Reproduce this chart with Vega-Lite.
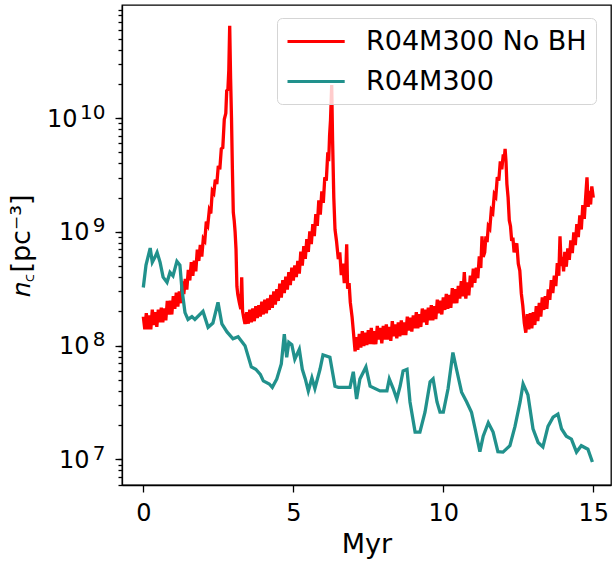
{
"$schema": "https://vega.github.io/schema/vega-lite/v6.json",
"width": 489, "height": 480,
"autosize": "none",
"padding": {"left": 122, "top": 5, "right": 1, "bottom": 79},
"background": "white",
"config": {
 "font": "DejaVu Sans",
 "view": {"stroke": "black", "strokeWidth": 1.3},
 "axis": {"grid": false, "domainColor": "black", "domainWidth": 1.3, "tickColor": "black", "tickWidth": 1.3, "labelColor": "black", "labelFont": "DejaVu Sans", "labelFontSize": 24, "titleFont": "DejaVu Sans", "titleFontSize": 27, "titleFontWeight": "normal", "titleColor": "black", "labelOverlap": false},
 "legend": {"labelFont": "DejaVu Sans", "labelFontSize": 27, "labelColor": "black", "labelLimit": 0}
},
"datasets": {
 "red": [
{"t":0,"n":1.80e8},{"t":0.05,"n":1.39e8},{"t":0.1,"n":1.93e8},{"t":0.15,"n":1.39e8},{"t":0.2,"n":1.84e8},{"t":0.25,"n":1.39e8},{"t":0.3,"n":2.07e8},{"t":0.35,"n":1.52e8},{"t":0.4,"n":1.97e8},{"t":0.45,"n":1.46e8},{"t":0.5,"n":2.07e8},{"t":0.55,"n":1.60e8},{"t":0.6,"n":2.16e8},{"t":0.65,"n":1.60e8},{"t":0.7,"n":2.12e8},{"t":0.75,"n":1.67e8},{"t":0.8,"n":2.48e8},{"t":0.85,"n":1.88e8},{"t":0.9,"n":2.48e8},{"t":0.95,"n":1.88e8},{"t":1.0,"n":2.72e8},{"t":1.05,"n":2.11e8},{"t":1.1,"n":2.92e8},{"t":1.15,"n":2.20e8},{"t":1.2,"n":2.99e8},{"t":1.25,"n":2.36e8},{"t":1.3,"n":3.68e8},{"t":1.35,"n":2.84e8},{"t":1.4,"n":3.85e8},{"t":1.45,"n":3.11e8},{"t":1.5,"n":4.63e8},{"t":1.55,"n":3.74e8},{"t":1.6,"n":5.41e8},{"t":1.65,"n":4.11e8},{"t":1.7,"n":5.57e8},{"t":1.75,"n":4.50e8},{"t":1.8,"n":7.0e8},{"t":1.85,"n":5.55e8},{"t":1.9,"n":7.67e8},{"t":1.95,"n":6.07e8},{"t":2.0,"n":8.71e8},{"t":2.05,"n":8.32e8},{"t":2.1,"n":1.23e9},{"t":2.15,"n":1.15e9},{"t":2.2,"n":1.55e9},{"t":2.25,"n":1.45e9},{"t":2.3,"n":2.29e9},{"t":2.35,"n":2.19e9},{"t":2.4,"n":2.88e9},{"t":2.45,"n":2.63e9},{"t":2.5,"n":3.80e9},{"t":2.55,"n":3.55e9},{"t":2.6,"n":5.37e9},{"t":2.65,"n":5.50e9},{"t":2.7,"n":9.77e9},{"t":2.75,"n":1.10e10},{"t":2.78,"n":1.74e10},{"t":2.82,"n":1.78e10},{"t":2.85,"n":2.63e10},{"t":2.88,"n":6.46e10},{"t":2.91,"n":2.24e10},{"t":2.94,"n":1.0e10},{"t":2.97,"n":3.55e9},{"t":3.0,"n":1.48e9},{"t":3.03,"n":1.26e9},{"t":3.06,"n":1.0e9},{"t":3.09,"n":7.1e8},{"t":3.12,"n":3.31e8},{"t":3.15,"n":2.82e8},{"t":3.2,"n":2.40e8},{"t":3.25,"n":2.09e8},{"t":3.28,"n":3.98e8},{"t":3.31,"n":2.0e8},{"t":3.35,"n":1.74e8},{"t":3.39,"n":1.55e8},{"t":3.45,"n":1.97e8},{"t":3.5,"n":1.56e8},{"t":3.55,"n":2.07e8},{"t":3.6,"n":1.60e8},{"t":3.65,"n":2.12e8},{"t":3.7,"n":1.64e8},{"t":3.75,"n":2.22e8},{"t":3.8,"n":1.75e8},{"t":3.85,"n":2.27e8},{"t":3.9,"n":1.80e8},{"t":3.95,"n":2.43e8},{"t":4.0,"n":1.88e8},{"t":4.05,"n":2.54e8},{"t":4.1,"n":1.92e8},{"t":4.15,"n":2.60e8},{"t":4.2,"n":2.06e8},{"t":4.25,"n":2.79e8},{"t":4.3,"n":2.15e8},{"t":4.35,"n":2.99e8},{"t":4.4,"n":2.30e8},{"t":4.45,"n":3.13e8},{"t":4.5,"n":2.47e8},{"t":4.55,"n":3.51e8},{"t":4.6,"n":2.65e8},{"t":4.65,"n":3.76e8},{"t":4.7,"n":2.90e8},{"t":4.75,"n":4.03e8},{"t":4.8,"n":3.11e8},{"t":4.85,"n":4.42e8},{"t":4.9,"n":3.41e8},{"t":4.95,"n":4.84e8},{"t":5.0,"n":3.74e8},{"t":5.05,"n":5.08e8},{"t":5.1,"n":4.01e8},{"t":5.15,"n":5.57e8},{"t":5.2,"n":4.30e8},{"t":5.25,"n":6.69e8},{"t":5.3,"n":5.05e8},{"t":5.35,"n":7.50e8},{"t":5.4,"n":5.80e8},{"t":5.45,"n":8.62e8},{"t":5.5,"n":6.66e8},{"t":5.55,"n":1.01e9},{"t":5.6,"n":7.82e8},{"t":5.65,"n":1.17e9},{"t":5.7,"n":9.18e8},{"t":5.75,"n":1.43e9},{"t":5.8,"n":1.13e9},{"t":5.85,"n":1.89e9},{"t":5.9,"n":1.42e9},{"t":5.95,"n":2.27e9},{"t":6.0,"n":1.80e9},{"t":6.05,"n":3.02e9},{"t":6.1,"n":2.82e9},{"t":6.15,"n":5.01e9},{"t":6.18,"n":4.17e9},{"t":6.21,"n":7.08e9},{"t":6.24,"n":9.55e9},{"t":6.28,"n":1.95e10},{"t":6.31,"n":6.31e9},{"t":6.35,"n":2.0e9},{"t":6.39,"n":1.05e9},{"t":6.44,"n":8.32e8},{"t":6.5,"n":5.75e8},{"t":6.55,"n":6.61e8},{"t":6.6,"n":4.17e8},{"t":6.65,"n":5.25e8},{"t":6.7,"n":3.55e8},{"t":6.75,"n":4.57e8},{"t":6.78,"n":7.76e8},{"t":6.81,"n":3.16e8},{"t":6.86,"n":3.55e8},{"t":6.9,"n":2.40e8},{"t":6.96,"n":1.78e8},{"t":7.01,"n":1.26e8},{"t":7.06,"n":8.9e7},{"t":7.1,"n":1.19e8},{"t":7.15,"n":9.2e7},{"t":7.2,"n":1.27e8},{"t":7.25,"n":9.6e7},{"t":7.3,"n":1.34e8},{"t":7.35,"n":9.9e7},{"t":7.4,"n":1.30e8},{"t":7.45,"n":1.01e8},{"t":7.5,"n":1.37e8},{"t":7.55,"n":1.03e8},{"t":7.6,"n":1.43e8},{"t":7.65,"n":1.03e8},{"t":7.7,"n":1.34e8},{"t":7.75,"n":1.03e8},{"t":7.8,"n":1.49e8},{"t":7.85,"n":1.13e8},{"t":7.9,"n":1.43e8},{"t":7.95,"n":1.05e8},{"t":8.0,"n":1.49e8},{"t":8.05,"n":1.13e8},{"t":8.1,"n":1.54e8},{"t":8.15,"n":1.13e8},{"t":8.2,"n":1.46e8},{"t":8.25,"n":1.10e8},{"t":8.3,"n":1.64e8},{"t":8.35,"n":1.21e8},{"t":8.4,"n":1.54e8},{"t":8.45,"n":1.16e8},{"t":8.5,"n":1.60e8},{"t":8.55,"n":1.21e8},{"t":8.6,"n":1.67e8},{"t":8.65,"n":1.24e8},{"t":8.7,"n":1.60e8},{"t":8.75,"n":1.24e8},{"t":8.8,"n":1.80e8},{"t":8.85,"n":1.36e8},{"t":8.9,"n":1.76e8},{"t":8.95,"n":1.33e8},{"t":9.0,"n":1.84e8},{"t":9.05,"n":1.42e8},{"t":9.1,"n":1.97e8},{"t":9.15,"n":1.42e8},{"t":9.2,"n":1.89e8},{"t":9.25,"n":1.46e8},{"t":9.3,"n":2.12e8},{"t":9.35,"n":1.60e8},{"t":9.4,"n":2.07e8},{"t":9.45,"n":1.52e8},{"t":9.5,"n":2.16e8},{"t":9.55,"n":1.67e8},{"t":9.6,"n":2.27e8},{"t":9.65,"n":1.67e8},{"t":9.7,"n":2.22e8},{"t":9.75,"n":1.71e8},{"t":9.8,"n":2.54e8},{"t":9.85,"n":1.92e8},{"t":9.9,"n":2.48e8},{"t":9.95,"n":1.88e8},{"t":10.0,"n":2.66e8},{"t":10.05,"n":2.06e8},{"t":10.1,"n":2.85e8},{"t":10.15,"n":2.11e8},{"t":10.2,"n":2.79e8},{"t":10.25,"n":2.15e8},{"t":10.3,"n":3.20e8},{"t":10.35,"n":2.36e8},{"t":10.4,"n":3.13e8},{"t":10.45,"n":2.36e8},{"t":10.5,"n":3.35e8},{"t":10.55,"n":2.59e8},{"t":10.6,"n":3.68e8},{"t":10.65,"n":2.71e8},{"t":10.7,"n":4.42e8},{"t":10.75,"n":2.59e8},{"t":10.8,"n":3.59e8},{"t":10.85,"n":2.77e8},{"t":10.9,"n":4.12e8},{"t":10.95,"n":3.26e8},{"t":11.0,"n":4.74e8},{"t":11.05,"n":3.57e8},{"t":11.1,"n":4.84e8},{"t":11.15,"n":3.92e8},{"t":11.2,"n":6.10e8},{"t":11.25,"n":4.82e8},{"t":11.29,"n":9.12e8},{"t":11.33,"n":6.03e8},{"t":11.38,"n":6.61e8},{"t":11.42,"n":9.12e8},{"t":11.46,"n":8.13e8},{"t":11.5,"n":1.12e9},{"t":11.55,"n":1.07e9},{"t":11.6,"n":1.55e9},{"t":11.65,"n":1.48e9},{"t":11.7,"n":2.14e9},{"t":11.75,"n":2.04e9},{"t":11.8,"n":3.02e9},{"t":11.85,"n":2.82e9},{"t":11.9,"n":4.17e9},{"t":11.95,"n":3.55e9},{"t":12.0,"n":4.79e9},{"t":12.03,"n":4.27e9},{"t":12.06,"n":5.37e9},{"t":12.09,"n":4.17e9},{"t":12.12,"n":2.63e9},{"t":12.16,"n":2.0e9},{"t":12.2,"n":1.26e9},{"t":12.24,"n":1.12e9},{"t":12.28,"n":8.32e8},{"t":12.32,"n":8.91e8},{"t":12.36,"n":6.61e8},{"t":12.4,"n":7.24e8},{"t":12.45,"n":7.94e8},{"t":12.5,"n":5.25e8},{"t":12.55,"n":4.57e8},{"t":12.6,"n":2.88e8},{"t":12.65,"n":2.24e8},{"t":12.7,"n":1.58e8},{"t":12.75,"n":1.30e8},{"t":12.8,"n":1.89e8},{"t":12.85,"n":1.39e8},{"t":12.9,"n":1.93e8},{"t":12.95,"n":1.42e8},{"t":13.0,"n":1.97e8},{"t":13.05,"n":1.52e8},{"t":13.1,"n":2.22e8},{"t":13.15,"n":1.64e8},{"t":13.2,"n":2.37e8},{"t":13.25,"n":1.80e8},{"t":13.3,"n":2.66e8},{"t":13.35,"n":2.06e8},{"t":13.4,"n":2.72e8},{"t":13.45,"n":2.11e8},{"t":13.5,"n":3.13e8},{"t":13.55,"n":2.53e8},{"t":13.6,"n":3.76e8},{"t":13.65,"n":2.90e8},{"t":13.7,"n":4.12e8},{"t":13.75,"n":3.34e8},{"t":13.8,"n":5.31e8},{"t":13.85,"n":4.11e8},{"t":13.89,"n":9.12e8},{"t":13.93,"n":5.01e8},{"t":13.97,"n":6.03e8},{"t":14.01,"n":4.50e8},{"t":14.05,"n":6.69e8},{"t":14.1,"n":4.94e8},{"t":14.15,"n":7.17e8},{"t":14.2,"n":5.67e8},{"t":14.25,"n":8.42e8},{"t":14.3,"n":6.50e8},{"t":14.35,"n":9.89e8},{"t":14.4,"n":7.64e8},{"t":14.45,"n":1.17e9},{"t":14.5,"n":8.98e8},{"t":14.55,"n":1.40e9},{"t":14.6,"n":1.05e9},{"t":14.65,"n":1.72e9},{"t":14.7,"n":1.30e9},{"t":14.75,"n":2.12e9},{"t":14.79,"n":3.02e9},{"t":14.83,"n":1.66e9},{"t":14.87,"n":2.29e9},{"t":14.91,"n":1.74e9},{"t":14.95,"n":2.51e9},{"t":15.0,"n":2.0e9}
 ],
 "teal": [
{"t":0,"n":3.24e8},{"t":0.09,"n":5.1e8},{"t":0.23,"n":7.2e8},{"t":0.3,"n":5.4e8},{"t":0.39,"n":6.0e8},{"t":0.46,"n":6.6e8},{"t":0.56,"n":5.4e8},{"t":0.66,"n":4.0e8},{"t":0.79,"n":3.6e8},{"t":0.89,"n":4.4e8},{"t":0.99,"n":4.1e8},{"t":1.12,"n":5.5e8},{"t":1.22,"n":5.1e8},{"t":1.29,"n":3.1e8},{"t":1.39,"n":1.95e8},{"t":1.49,"n":1.7e8},{"t":1.62,"n":1.8e8},{"t":1.72,"n":1.7e8},{"t":1.99,"n":2.0e8},{"t":2.16,"n":1.45e8},{"t":2.32,"n":1.58e8},{"t":2.49,"n":2.4e8},{"t":2.62,"n":1.55e8},{"t":2.79,"n":1.32e8},{"t":2.99,"n":1.15e8},{"t":3.16,"n":1.2e8},{"t":3.39,"n":1.0e8},{"t":3.6,"n":6.5e7},{"t":3.75,"n":6.2e7},{"t":3.9,"n":5.6e7},{"t":4.0,"n":4.9e7},{"t":4.2,"n":4.6e7},{"t":4.3,"n":4.3e7},{"t":4.45,"n":5.1e7},{"t":4.6,"n":6.9e7},{"t":4.7,"n":1.26e8},{"t":4.78,"n":7.9e7},{"t":4.85,"n":1.07e8},{"t":4.95,"n":1.02e8},{"t":5.05,"n":7.6e7},{"t":5.2,"n":9.3e7},{"t":5.3,"n":6.2e7},{"t":5.4,"n":5.1e7},{"t":5.5,"n":4.0e7},{"t":5.62,"n":5.2e7},{"t":5.72,"n":4.2e7},{"t":5.89,"n":6.2e7},{"t":5.99,"n":8.3e7},{"t":6.22,"n":7.9e7},{"t":6.39,"n":4.4e7},{"t":6.5,"n":4.3e7},{"t":6.89,"n":4.3e7},{"t":7.0,"n":5.9e7},{"t":7.11,"n":3.4e7},{"t":7.22,"n":5.1e7},{"t":7.42,"n":6.5e7},{"t":7.56,"n":4.4e7},{"t":7.89,"n":4.0e7},{"t":8.12,"n":4.0e7},{"t":8.2,"n":5.1e7},{"t":8.33,"n":4.2e7},{"t":8.45,"n":3.4e7},{"t":8.56,"n":4.4e7},{"t":8.66,"n":6.0e7},{"t":8.79,"n":6.2e7},{"t":8.89,"n":3.2e7},{"t":9.06,"n":1.74e7},{"t":9.22,"n":1.74e7},{"t":9.39,"n":2.6e7},{"t":9.56,"n":4.8e7},{"t":9.66,"n":5.1e7},{"t":9.79,"n":3.2e7},{"t":9.89,"n":2.6e7},{"t":10.0,"n":2.6e7},{"t":10.16,"n":4.2e7},{"t":10.32,"n":8.7e7},{"t":10.44,"n":6.2e7},{"t":10.61,"n":3.9e7},{"t":10.78,"n":3.2e7},{"t":10.94,"n":2.6e7},{"t":11.06,"n":1.86e7},{"t":11.22,"n":1.17e7},{"t":11.33,"n":1.6e7},{"t":11.5,"n":2.1e7},{"t":11.66,"n":1.74e7},{"t":11.82,"n":1.17e7},{"t":11.99,"n":1.16e7},{"t":12.22,"n":1.32e7},{"t":12.39,"n":1.95e7},{"t":12.56,"n":3.2e7},{"t":12.66,"n":4.6e7},{"t":12.82,"n":3.7e7},{"t":12.99,"n":1.86e7},{"t":13.16,"n":1.41e7},{"t":13.32,"n":1.29e7},{"t":13.49,"n":1.95e7},{"t":13.66,"n":2.35e7},{"t":13.82,"n":2.5e7},{"t":13.94,"n":1.86e7},{"t":14.1,"n":1.6e7},{"t":14.27,"n":1.51e7},{"t":14.44,"n":1.16e7},{"t":14.6,"n":1.32e7},{"t":14.82,"n":1.23e7},{"t":14.97,"n":9.5e6}
 ]
},
"layer": [
 {
  "data": {"name": "red"},
  "mark": {"type": "line", "strokeWidth": 3.3, "clip": true},
  "encoding": {
   "x": {"field": "t", "type": "quantitative", "scale": {"domain": [-0.71, 15.59], "nice": false, "zero": false}, "axis": {"values": [0, 5, 10, 15], "tickSize": 7, "labelPadding": 9, "title": "Myr", "titlePadding": 6, "labelFlush": false}},
   "y": {"field": "n", "type": "quantitative", "scale": {"type": "log", "domain": [5.96e6, 9.86e10], "nice": false}, "axis": {"values": [1e7, 1e8, 1e9, 1e10], "tickSize": 7, "labelPadding": 10, "labelFontSize": 20, "labelOffset": -6, "labelExpr": "datum.value == 1e10 ? '10' : datum.value == 1e9 ? '9' : datum.value == 1e8 ? '8' : '7'", "title": null, "labelFlush": false}},
   "color": {"datum": "R04M300 No BH", "type": "nominal", "scale": {"domain": ["R04M300 No BH", "R04M300"], "range": ["#ff0000", "#21918c"]}, "legend": {"title": null, "orient": "none", "legendX": 155, "legendY": 13, "symbolType": "M-1,0H3.4", "symbolSize": 676, "symbolStrokeWidth": 3, "labelOffset": 51, "rowPadding": 12, "padding": 9, "fillColor": "rgba(255,255,255,0.8)", "strokeColor": "#d5d5d5", "cornerRadius": 5}}
  }
 },
 {
  "data": {"name": "teal"},
  "mark": {"type": "line", "strokeWidth": 3.3, "clip": true},
  "encoding": {
   "x": {"field": "t", "type": "quantitative"},
   "y": {"field": "n", "type": "quantitative", "axis": {"orient": "left", "values": [6e6, 7e6, 8e6, 9e6, 1e7, 2e7, 3e7, 4e7, 5e7, 6e7, 7e7, 8e7, 9e7, 1e8, 2e8, 3e8, 4e8, 5e8, 6e8, 7e8, 8e8, 9e8, 1e9, 2e9, 3e9, 4e9, 5e9, 6e9, 7e9, 8e9, 9e9, 1e10, 2e10, 3e10, 4e10, 5e10, 6e10, 7e10, 8e10, 9e10], "labelExpr": "(datum.value == 1e10 || datum.value == 1e9 || datum.value == 1e8 || datum.value == 1e7) ? '10' : ''", "tickSize": 4, "labelPadding": {"condition": {"test": "datum.value == 1e10", "value": 41}, "value": 29}, "labelOffset": 1, "domain": false, "title": "𝑛꜀[pc⁻³]", "titlePadding": 11, "labelFlush": false}},
   "color": {"datum": "R04M300", "type": "nominal"}
  }
 }
],
"resolve": {"axis": {"y": "independent"}}
}
